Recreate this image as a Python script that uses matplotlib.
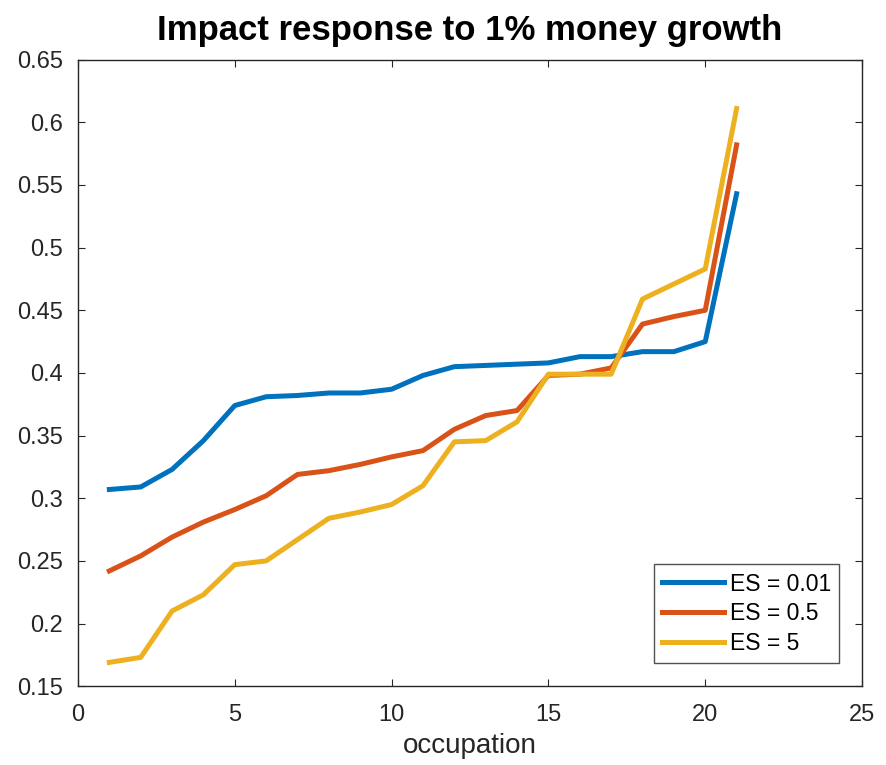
import matplotlib.pyplot as plt

plt.rcParams['font.family'] = ['Liberation Sans', 'DejaVu Sans']

occupation = list(range(1, 22))
es_001 = [0.307, 0.309, 0.323, 0.346, 0.374, 0.381, 0.382, 0.384, 0.384, 0.387,
          0.398, 0.405, 0.406, 0.407, 0.408, 0.413, 0.413, 0.417, 0.417, 0.425, 0.543]
es_05 = [0.242, 0.254, 0.269, 0.281, 0.291, 0.302, 0.319, 0.322, 0.327, 0.333,
         0.338, 0.355, 0.366, 0.370, 0.398, 0.399, 0.404, 0.439, 0.445, 0.450, 0.582]
es_5 = [0.169, 0.173, 0.210, 0.223, 0.247, 0.250, 0.267, 0.284, 0.289, 0.295,
        0.310, 0.345, 0.346, 0.361, 0.399, 0.399, 0.399, 0.459, 0.471, 0.483, 0.611]
labels = ['ES = 0.01', 'ES = 0.5', 'ES = 5']
colors = ['#0072BD', '#D95319', '#EDB120']

fig = plt.figure(figsize=(8.86, 7.65), dpi=100)
ax = fig.add_axes([0.088, 0.103, 0.885, 0.819])

for y, lab, c in zip([es_001, es_05, es_5], labels, colors):
    ax.plot(occupation, y, color=c, lw=3.6, label=lab)

ax.set_xlim(0, 25)
ax.set_ylim(0.15, 0.65)
ax.set_xticks([0, 5, 10, 15, 20, 25])
ax.set_yticks([0.15, 0.2, 0.25, 0.3, 0.35, 0.4, 0.45, 0.5, 0.55, 0.6, 0.65])
ax.set_yticklabels(['0.15', '0.2', '0.25', '0.3', '0.35', '0.4', '0.45', '0.5', '0.55', '0.6', '0.65'])
ax.tick_params(direction='in', top=True, right=True, labelsize=17, colors='#262626', length=5)
ax.tick_params(axis='x', pad=13)
ax.tick_params(axis='y', pad=11)
for s in ax.spines.values():
    s.set_color('#262626')
    s.set_linewidth(1.0)

ax.set_xlabel('occupation', fontsize=20, color='#262626', labelpad=5)
ax.set_title('Impact response to 1% money growth', fontsize=25, fontweight='bold', pad=14)

leg = ax.legend(loc='lower right', fontsize=16.5, frameon=True, fancybox=False,
                edgecolor='#262626', handlelength=2.7, borderaxespad=1.0,
                labelspacing=0.3, handletextpad=0.25, borderpad=0.35)
leg.get_frame().set_linewidth(1.0)

fig.savefig('out.png', dpi=100)
